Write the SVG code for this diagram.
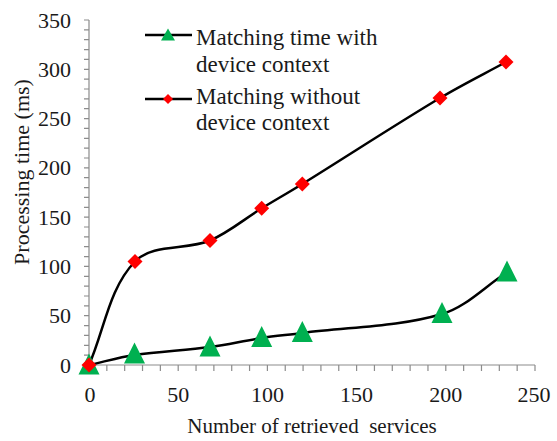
<svg xmlns="http://www.w3.org/2000/svg" width="557" height="441" viewBox="0 0 557 441">
<style>
.ax{stroke:#8c8c8c;stroke-width:1.2;fill:none}
.t{font-size:22px;fill:#1a1a1a}
.yl{text-anchor:end}
.xl{text-anchor:middle}
.lg{font-size:23px;fill:#1a1a1a}
.ser{stroke:#000;stroke-width:2.5;fill:none;stroke-linejoin:round}
.tri{fill:#00b050}
.dia{fill:#ff0000}
</style>
<defs>
<polygon id="tri" points="0,-11.5 10.5,9.5 -10.5,9.5"/>
<polygon id="dia" points="0,-7.5 7.5,0 0,7.5 -7.5,0"/>
</defs>
<rect width="557" height="441" fill="#fff"/>
<g id="axes">
<path class="ax" d="M89,20V365H535"/>
<path class="ax" d="M84,365H89M84,355.14H89M84,345.29H89M84,335.43H89M84,325.57H89M84,315.71H89M84,305.86H89M84,296H89M84,286.14H89M84,276.29H89M84,266.43H89M84,256.57H89M84,246.71H89M84,236.86H89M84,227H89M84,217.14H89M84,207.29H89M84,197.43H89M84,187.57H89M84,177.71H89M84,167.86H89M84,158H89M84,148.14H89M84,138.29H89M84,128.43H89M84,118.57H89M84,108.71H89M84,98.86H89M84,89H89M84,79.14H89M84,69.29H89M84,59.43H89M84,49.57H89M84,39.71H89M84,29.86H89M84,20H89"/>
<path class="ax" d="M89,365V371M106.84,365V371M124.68,365V371M142.52,365V371M160.36,365V371M178.2,365V371M196.04,365V371M213.88,365V371M231.72,365V371M249.56,365V371M267.4,365V371M285.24,365V371M303.08,365V371M320.92,365V371M338.76,365V371M356.6,365V371M374.44,365V371M392.28,365V371M410.12,365V371M427.96,365V371M445.8,365V371M463.64,365V371M481.48,365V371M499.32,365V371M517.16,365V371M535,365V371"/>
<g class="t yl" font-family="Liberation Serif, serif">
<text x="71" y="372.5" font-family="Liberation Serif, serif">0</text>
<text x="71" y="323.2" font-family="Liberation Serif, serif">50</text>
<text x="71" y="273.9" font-family="Liberation Serif, serif">100</text>
<text x="71" y="224.6" font-family="Liberation Serif, serif">150</text>
<text x="71" y="175.4" font-family="Liberation Serif, serif">200</text>
<text x="71" y="126.1" font-family="Liberation Serif, serif">250</text>
<text x="71" y="76.8" font-family="Liberation Serif, serif">300</text>
<text x="71" y="27.5" font-family="Liberation Serif, serif">350</text>
</g>
<g class="t xl" font-family="Liberation Serif, serif">
<text x="90" y="402" font-family="Liberation Serif, serif">0</text>
<text x="178.2" y="402" font-family="Liberation Serif, serif">50</text>
<text x="267.4" y="402" font-family="Liberation Serif, serif">100</text>
<text x="356.6" y="402" font-family="Liberation Serif, serif">150</text>
<text x="445.8" y="402" font-family="Liberation Serif, serif">200</text>
<text x="534" y="402" font-family="Liberation Serif, serif">250</text>
</g>
<text class="t xl" x="312" y="433" font-family="Liberation Serif, serif" style="font-size:21px" xml:space="preserve">Number of retrieved  services</text>
<text class="t xl" transform="translate(28.5,172) rotate(-90)" font-family="Liberation Serif, serif">Processing time (ms)</text>
</g>
<g id="connectors">
<path id="line-with" class="ser" d="M89,365C104.1,361.7 119.2,357.3 134.5,355C159.5,351.3 184.9,350.4 210,347C227.3,344.7 244.4,340.6 261.7,338C275.1,336 288.8,334.8 302.3,333C348.9,326.8 396.9,327.3 442,314C466.3,306.9 484.7,286.6 506,273"/>
<path id="line-without" class="ser" d="M89,365C104.3,330.5 108.7,288.6 135,261.5C153.1,242.9 186,250.6 210,240.5C228.7,232.6 244.4,218.9 261.7,208.3C275.2,200.1 288.9,192.3 302.3,184C348.3,155.5 393.6,125.8 440,98C461.5,85.1 484,74 506,62"/>
</g>
<g id="series-with">
<use href="#tri" class="tri" x="89" y="365"/>
<use href="#tri" class="tri" x="134.5" y="354"/>
<use href="#tri" class="tri" x="210" y="347"/>
<use href="#tri" class="tri" x="261.7" y="337.5"/>
<use href="#tri" class="tri" x="302.3" y="332.5"/>
<use href="#tri" class="tri" x="442" y="313.5"/>
<use href="#tri" class="tri" x="507" y="272"/>
</g>
<g id="series-without">
<use href="#dia" class="dia" x="89" y="365"/>
<use href="#dia" class="dia" x="135" y="261.5"/>
<use href="#dia" class="dia" x="210" y="240.5"/>
<use href="#dia" class="dia" x="261.7" y="208.3"/>
<use href="#dia" class="dia" x="302.3" y="184"/>
<use href="#dia" class="dia" x="440" y="98"/>
<use href="#dia" class="dia" x="506" y="62"/>
</g>
<g id="legend">
<path class="ser" d="M145,35H192M145,99H192"/>
<polygon class="tri" points="168,28.5 175,40.5 161,40.5"/>
<polygon class="dia" points="168,94 173,99 168,104 163,99"/>
<text class="lg" x="196" y="45" font-family="Liberation Serif, serif">Matching time with</text>
<text class="lg" x="196" y="72" font-family="Liberation Serif, serif">device context</text>
<text class="lg" x="196" y="104" font-family="Liberation Serif, serif">Matching without</text>
<text class="lg" x="196" y="130" font-family="Liberation Serif, serif">device context</text>
</g>
</svg>
